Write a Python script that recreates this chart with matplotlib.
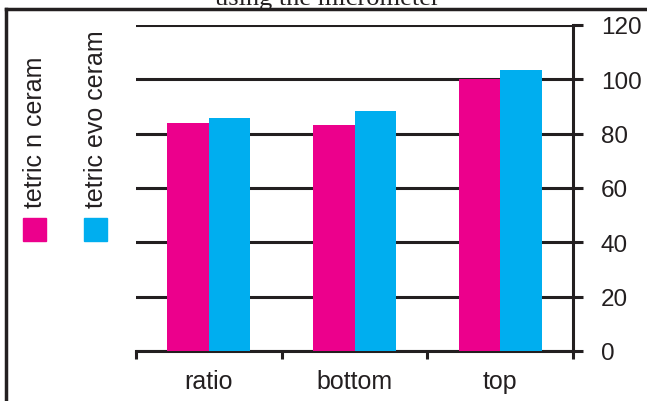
import matplotlib
matplotlib.use("Agg")
import matplotlib.pyplot as plt
from matplotlib.patches import Rectangle
from matplotlib.lines import Line2D
import numpy as np

plt.rcParams['font.family'] = ['Liberation Sans', 'DejaVu Sans']

# data
categories = ["ratio", "bottom", "top"]
series_names = ["tetric n ceram", "tetric evo ceram"]
n_ceram = [83.8, 83.2, 100.1]
evo_ceram = [85.6, 88.3, 103.4]
colors = ["#EC008C", "#00AEEF"]
yticks = [0, 20, 40, 60, 80, 100, 120]

W, H = 647, 402
fig = plt.figure(figsize=(W / 100, H / 100), dpi=100)

# axes box in pixel coords
x0, x1, ytop, ybot = 136, 573, 26, 352
ax = fig.add_axes([x0 / W, (H - ybot) / H, (x1 - x0) / W, (ybot - ytop) / H])

x = np.arange(len(categories)) + 0.5
bw = 0.285
ax.bar(x - bw / 2, n_ceram, bw, color=colors[0], zorder=3)
ax.bar(x + bw / 2, evo_ceram, bw, color=colors[1], zorder=3)

ax.set_xlim(0, 3)
ax.set_ylim(0, 120)

# y axis on the right
ax.yaxis.tick_right()
ax.set_yticks(yticks)
ax.tick_params(axis='y', direction='out', length=7, width=2.2, pad=13,
               labelsize=17.5, colors='#231f20')
ax.yaxis.grid(True, color='#231f20', lw=2.2, zorder=0)
ax.set_axisbelow(True)

# x axis: separators as minor ticks, labels on majors
ax.set_xticks(x)
ax.set_xticklabels(categories)
ax.set_xticks([0, 1, 2, 3], minor=True)
ax.tick_params(axis='x', which='major', length=0, pad=13, labelsize=18,
               colors='#231f20')
ax.tick_params(axis='x', which='minor', direction='out', length=5.5, width=2.2,
               color='#231f20')

for s in ['left', 'top']:
    ax.spines[s].set_visible(False)
for s in ['right', 'bottom']:
    ax.spines[s].set_linewidth(2.2)
    ax.spines[s].set_color('#231f20')

# legend: rotated labels with squares below
leg_x = [35, 96]
for name, c, lx in zip(series_names, colors, leg_x):
    fig.patches.append(Rectangle(((lx - 12) / W, (H - 242) / H), 23 / W, 23 / H,
                                 transform=fig.transFigure, color=c))
    fig.text(lx / W, (H - 208) / H, name, rotation=90, ha='center', va='bottom',
             fontsize=18, color='#231f20')

# outer frame (cropped)
fig.add_artist(Line2D([6 / W, 6 / W], [0, (H - 10) / H], transform=fig.transFigure,
                      color='#231f20', lw=2.5))
fig.add_artist(Line2D([6 / W, 1], [(H - 10) / H, (H - 10) / H],
                      transform=fig.transFigure, color='#231f20', lw=2.5))

# title, cut off at the top like in the source picture
fig.text(327 / W, (H - 5) / H, "using the micrometer", ha='center', va='baseline',
         fontsize=19, family=['Liberation Serif', 'DejaVu Serif'], color='#231f20')

fig.savefig("out.png", dpi=100)
